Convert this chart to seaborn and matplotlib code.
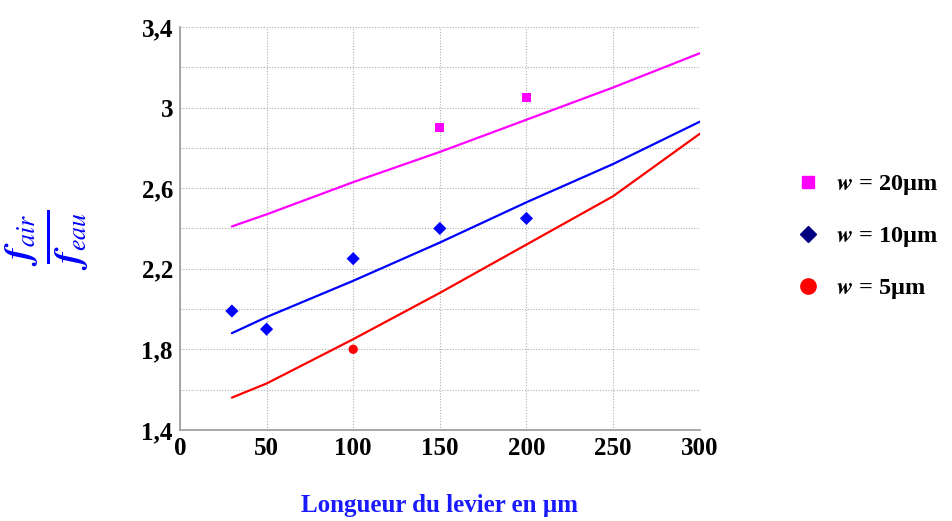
import numpy as np
import pandas as pd
import matplotlib.pyplot as plt
import seaborn as sns

# ============================================
# Données
# ============================================
series = ["w = 20µm", "w = 10µm", "w = 5µm"]

# points mesurés
x_20 = [150, 200]
y_20 = [2.90, 3.05]
x_10 = [30, 50, 100, 150, 200]
y_10 = [1.99, 1.90, 2.25, 2.40, 2.45]
x_5 = [100]
y_5 = [1.80]

# courbes du modèle
xl = [30, 50, 100, 150, 200, 250, 300]
yl_20 = [2.41, 2.47, 2.63, 2.78, 2.94, 3.10, 3.27]
yl_10 = [1.88, 1.96, 2.14, 2.33, 2.53, 2.72, 2.93]
yl_5 = [1.56, 1.63, 1.85, 2.08, 2.32, 2.56, 2.87]

xticks = [0, 50, 100, 150, 200, 250, 300]
yticks = [1.4, 1.8, 2.2, 2.6, 3.0, 3.4]
ytick_labels = ["1,4", "1,8", "2,2", "2,6", "3", "3,4"]

pts = pd.DataFrame({
    "L": x_20 + x_10 + x_5,
    "r": y_20 + y_10 + y_5,
    "w": [series[0]] * len(x_20) + [series[1]] * len(x_10) + [series[2]] * len(x_5),
})
lines = pd.DataFrame({
    "L": xl * 3,
    "r": yl_20 + yl_10 + yl_5,
    "w": [series[0]] * 7 + [series[1]] * 7 + [series[2]] * 7,
})

# ============================================
# Figure
# ============================================
sns.set_style("white")
plt.rcParams["font.family"] = ["Liberation Serif", "DejaVu Serif"]
plt.rcParams["mathtext.fontset"] = "stix"
plt.rcParams["text.color"] = "black"
plt.rcParams["xtick.color"] = "black"
plt.rcParams["ytick.color"] = "black"

fig = plt.figure(figsize=(9.52, 5.21), dpi=100)
ax = fig.add_axes([0.189, 0.175, 0.546, 0.773])

line_pal = {series[0]: "#ff00ff", series[1]: "#0000ff", series[2]: "#ff0000"}
sns.lineplot(data=lines, x="L", y="r", hue="w", palette=line_pal, lw=1.6,
             legend=False, ax=ax)
sns.scatterplot(data=pts, x="L", y="r", hue="w", style="w", palette=line_pal,
                markers={series[0]: "s", series[1]: "D", series[2]: "o"},
                s=45, edgecolor="none", legend=False, ax=ax)

ax.set_xlim(0, 300)
ax.set_ylim(1.4, 3.4)
ax.set_xticks(xticks)
ax.set_xticklabels([str(t) for t in xticks])
ax.set_yticks(yticks)
ax.set_yticklabels(ytick_labels)
ax.set_yticks(np.arange(1.6, 3.4, 0.4), minor=True)
ax.grid(True, which="both", color="#b0b0b0", linestyle=(0, (1, 1.5)), lw=0.8)
ax.tick_params(length=0, labelsize=18, pad=5, colors="black")
for lab in ax.get_xticklabels() + ax.get_yticklabels():
    lab.set_fontweight("bold")
for side in ["top", "right"]:
    ax.spines[side].set_visible(False)
for side in ["left", "bottom"]:
    ax.spines[side].set_color("#999999")
    ax.spines[side].set_linewidth(1.2)

ax.set_xlabel("Longueur du levier en µm", color="#1a1aff", fontsize=18,
              fontweight="bold", labelpad=25)
ax.set_ylabel("")
fig.text(0.05, 0.54, r"$\frac{\mathbfit{f}_{air}}{\mathbfit{f}_{eau}}$", color="#0000ff",
         fontsize=38, rotation=90, ha="center", va="center")

# légende à droite
handles = [
    plt.Line2D([], [], ls="", marker="s", color="#ff00ff", ms=9),
    plt.Line2D([], [], ls="", marker="D", color="#000080", ms=8),
    plt.Line2D([], [], ls="", marker="o", color="#ff0000", ms=11),
]
labels = [r"$\mathbfit{w}$ = 20µm", r"$\mathbfit{w}$ = 10µm", r"$\mathbfit{w}$ = 5µm"]
leg = fig.legend(handles, labels, loc="center left", bbox_to_anchor=(0.823, 0.545),
                 frameon=False, labelspacing=1.15, handletextpad=0.55,
                 handlelength=1.2, borderaxespad=0,
                 prop={"weight": "bold", "size": 17.5})

fig.savefig("out.png", dpi=100)
